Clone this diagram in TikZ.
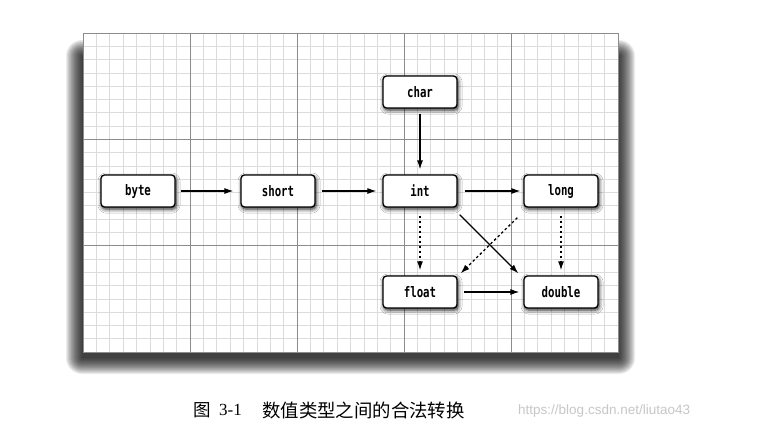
\documentclass[tikz,border=0pt]{standalone}
\usepackage{fontspec}
\setmonofont[FakeStretch=0.74]{DejaVu Sans Mono}
\newfontfamily\cjk{Noto Sans CJK SC}
\newfontfamily\serifL{Liberation Serif}
\newfontfamily\sansL{Liberation Sans}
\usetikzlibrary{arrows.meta,shadows.blur}
\begin{document}
\begin{tikzpicture}[x=1pt,y=-1pt,
  tbox/.style={draw=black, line width=1.3pt, fill=white, rounded corners=3.5pt,
    minimum width=74pt, minimum height=32pt, inner sep=0pt,
    font=\ttfamily\bfseries\fontsize{14.5}{16}\selectfont,
    blur shadow={shadow xshift=1pt, shadow yshift=-2pt, shadow blur radius=4pt, shadow opacity=90}},
  arr/.style={line width=1.1pt, -{Latex[length=9pt,width=6pt]}, shorten <=6pt, shorten >=4pt},
  darr/.style={line width=1.3pt, dash pattern=on 2.5pt off 2.5pt, -{Latex[length=9pt,width=6pt]}},
  minorl/.style={draw=black!14, line width=0.6pt},
  majorl/.style={draw=black!45, line width=0.7pt}]
\useasboundingbox[fill=white] (0,0) rectangle (775,434);
% panel shadow (layered soft shadow) and panel
\foreach \k in {0,...,16} {
  \fill[black, opacity=0.075, rounded corners=\k pt] (82-\k,56-\k) rectangle (619+\k,358+\k);
}
\fill[white] (83,33) rectangle (618,352);
% grid
\foreach \i in {0,...,40} {\draw[minorl] (83+\i*13.375,33) -- (83+\i*13.375,352);}
\foreach \j in {0,...,24} {\draw[minorl] (83,33+\j*13.2917) -- (618,33+\j*13.2917);}
\foreach \i in {1,...,4} {\draw[majorl] (83+\i*107,33) -- (83+\i*107,352);}
\foreach \j in {1,2} {\draw[majorl] (83,33+\j*106.33) -- (618,33+\j*106.33);}
\draw[draw=black!45, line width=0.8pt] (83,33) rectangle (618,352);
% nodes
\node[tbox] (byte) at (138,191) {byte};
\node[tbox] (short) at (278,191) {short};
\node[tbox] (char) at (420,92) {char};
\node[tbox] (int) at (420,191) {int};
\node[tbox] (long) at (561,191) {long};
\node[tbox] (float) at (420,292) {float};
\node[tbox] (double) at (561,292) {double};
% connectors
\draw[arr, shorten <=5pt, shorten >=7pt] (byte) -- (short);
\draw[arr, shorten <=6pt, shorten >=6pt] (short) -- (int);
\draw[arr, shorten <=5pt, shorten >=5pt] (char) -- (int);
\draw[arr, shorten <=7pt, shorten >=3pt] (int) -- (long);
\draw[arr] (float) -- (double);
\draw[arr, shorten <=0pt, shorten >=0pt] ([xshift=2pt,yshift=-7pt]int.south east) -- ([xshift=-5pt,yshift=2pt]double.north west);
\draw[darr] ([xshift=-6pt,yshift=-10pt]long.south west) -- ([xshift=3pt,yshift=2pt]float.north east);
\draw[darr, shorten <=8pt, shorten >=5pt] (int) -- (float);
\draw[darr, shorten <=8pt, shorten >=5pt] (long) -- (double);
% caption
\node[anchor=west, inner sep=0pt, font=\cjk\fontsize{17.5}{20}\selectfont] (fig) at (193,410) {图};
\node[anchor=west, inner sep=0pt, font=\serifL\fontsize{17}{20}\selectfont] (num) at (219,410) {3-1};
\node[anchor=west, inner sep=0pt, font=\cjk\fontsize{18.4}{20}\selectfont] (cap) at (262,410) {数值类型之间的合法转换};
\node[anchor=west, inner sep=0pt, text=black!22, font=\sansL\fontsize{13.5}{16}\selectfont] (wm) at (518,411) {https://blog.csdn.net/liutao43};
\end{tikzpicture}
\end{document}
